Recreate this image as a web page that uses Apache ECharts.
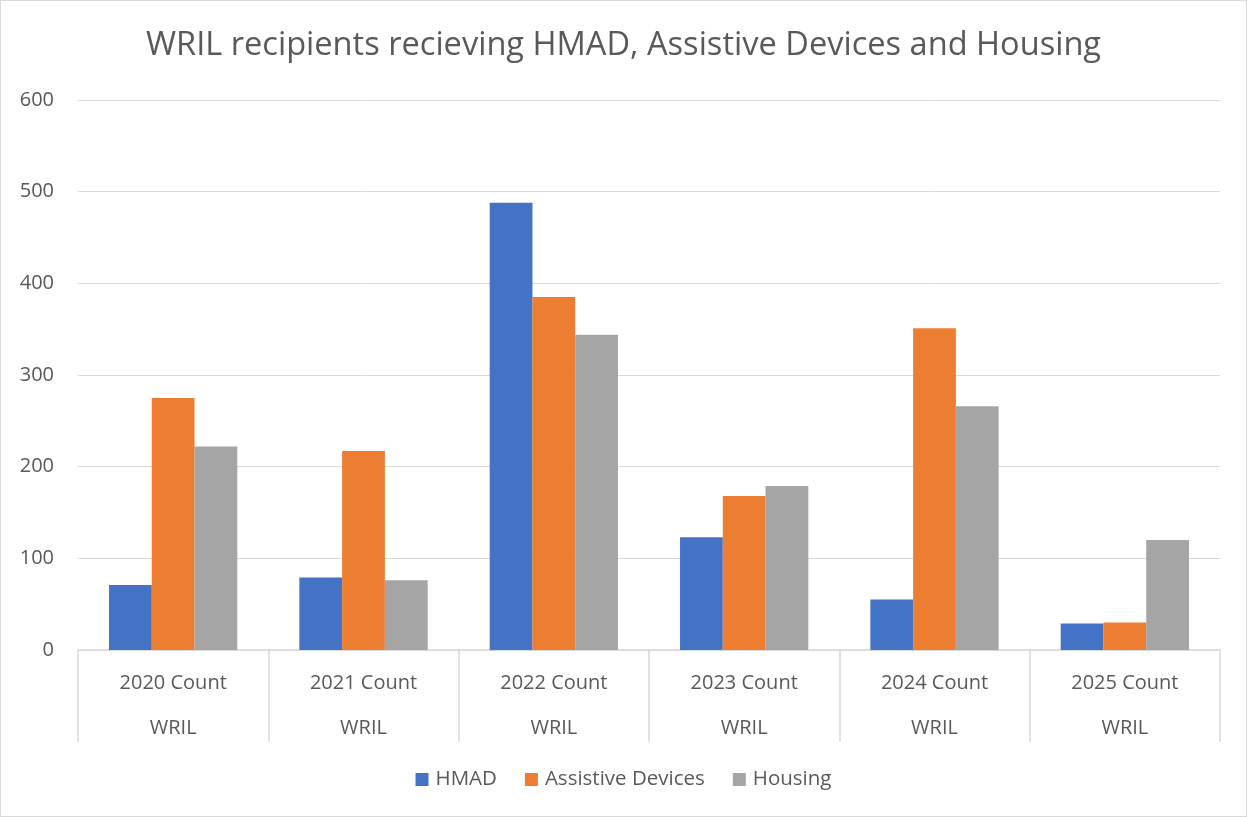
<!DOCTYPE html>
<html>
<head>
<meta charset="utf-8">
<script src="https://cdn.jsdelivr.net/npm/echarts@6/dist/echarts.min.js"></script>
<style>
html,body{margin:0;padding:0;background:#fff;}
#c{width:1247px;height:817px;box-sizing:border-box;border:1px solid #d9d9d9;}
</style>
</head>
<body>
<div id="c"></div>
<script>
const categories = ['2020 Count','2021 Count','2022 Count','2023 Count','2024 Count','2025 Count'];
const groupLabel = 'WRIL';
const hmad = [71, 79, 488, 123, 55, 29];
const assistive = [275, 217, 385, 168, 351, 30];
const housing = [222, 76, 344, 179, 266, 120];
const yTicks = {min: 0, max: 600, interval: 100};

const font = 'Open Sans';
const txt = '#595959';
const chart = echarts.init(document.getElementById('c'), null, {renderer: 'canvas'});
chart.setOption({
  animation: false,
  textStyle: {fontFamily: font},
  title: {
    text: 'WRIL recipients recieving HMAD, Assistive Devices and Housing',
    left: 'center', top: 23,
    textStyle: {fontFamily: font, fontSize: 32.6, fontWeight: 'normal', color: txt}
  },
  legend: {
    bottom: 21, left: 'center',
    itemWidth: 13, itemHeight: 13, itemGap: 28,
    icon: 'rect',
    textStyle: {fontFamily: font, fontSize: 20.5, color: txt, padding: [0, 0, 0, 2]},
    data: ['HMAD', 'Assistive Devices', 'Housing']
  },
  grid: {left: 77, right: 26, top: 99, bottom: 166, containLabel: false},
  xAxis: {
    type: 'category',
    data: categories,
    axisLine: {lineStyle: {color: '#d9d9d9', width: 1.5}},
    axisTick: {show: true, length: 92, lineStyle: {color: '#d9d9d9', width: 1.5}},
    axisLabel: {
      margin: 11,
      interval: 0,
      formatter: v => '{a|' + v + '}\n{b|' + groupLabel + '}',
      rich: {
        a: {fontFamily: font, fontSize: 20, color: txt, lineHeight: 45},
        b: {fontFamily: font, fontSize: 20, color: txt, lineHeight: 45}
      }
    }
  },
  yAxis: {
    type: 'value',
    min: yTicks.min, max: yTicks.max, interval: yTicks.interval,
    axisLine: {show: false},
    axisTick: {show: false},
    splitLine: {lineStyle: {color: '#d9d9d9', width: 1}},
    axisLabel: {fontFamily: font, fontSize: 20, color: txt, margin: 24}
  },
  series: [
    {name: 'HMAD', type: 'bar', data: hmad, itemStyle: {color: '#4472C4'}, barGap: '0%', barCategoryGap: '32.6%'},
    {name: 'Assistive Devices', type: 'bar', data: assistive, itemStyle: {color: '#ED7D31'}},
    {name: 'Housing', type: 'bar', data: housing, itemStyle: {color: '#A5A5A5'}}
  ]
});
</script>
</body>
</html>
